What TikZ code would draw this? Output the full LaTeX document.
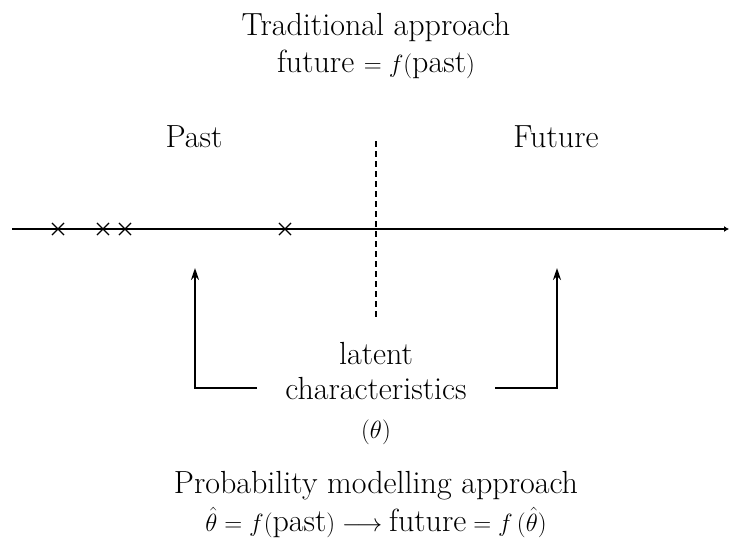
\documentclass[tikz,border=0pt]{standalone}
\usepackage{amsmath}
\usetikzlibrary{arrows.meta,shapes.misc}
\begin{document}
\begin{tikzpicture}[x=1pt,y=-1pt,
  lbl/.style={font=\fontsize{32}{37}\selectfont, align=center, inner sep=0pt, anchor=base},
  mainline/.style={line width=2pt},
  xmark/.style={cross out, draw, line width=1.1pt, minimum size=11pt, inner sep=0pt},
  uparrow/.style={line width=2.2pt, -{Stealth[length=12pt,width=8pt]}}]
\useasboundingbox (0,0) rectangle (729,549);
\node[lbl] (trad) at (376,35) {Traditional approach};
\node[lbl] (tradf) at (376,72) {future $=f(\text{past})$};
\node[lbl] (past) at (194,147) {Past};
\node[lbl] (fut) at (556,147) {Future};
\coordinate (t0) at (12,229);
\coordinate (t1) at (729,229);
\draw[mainline, -{Latex[length=5pt,width=6pt]}] (t0) -- (t1);
\node[xmark] (x1) at (58,229) {};
\node[xmark] (x2) at (103,229) {};
\node[xmark] (x3) at (125,229) {};
\node[xmark] (x4) at (285,229) {};
\coordinate (d0) at (376,141);
\coordinate (d1) at (376,318);
\draw[line width=2pt, dash pattern=on 6pt off 4pt] (d0) -- (d1);
\node[lbl] (lat) at (376,364) {latent};
\node[lbl] (chars) at (376,399) {characteristics};
\node[lbl] (theta) at (376,438) {$(\theta)$};
\coordinate (cl) at (257,388);
\coordinate (cr) at (495,388);
\coordinate (la) at (195,268);
\coordinate (ra) at (557,268);
\draw[uparrow] (cl) -| (la);
\draw[uparrow] (cr) -| (ra);
\node[lbl] (prob) at (376,493) {Probability modelling approach};
\node[lbl] (probf) at (376,531) {$\hat{\theta}=f(\text{past})\longrightarrow\text{future}=f\,(\hat{\theta})$};
\end{tikzpicture}
\end{document}
